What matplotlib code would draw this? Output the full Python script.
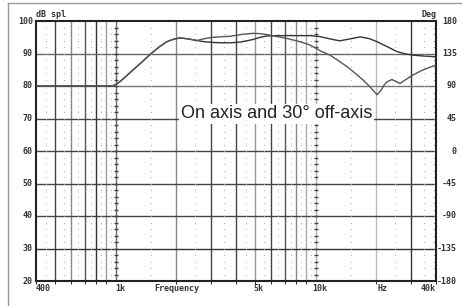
import matplotlib.pyplot as plt
from matplotlib.lines import Line2D
import numpy as np

# data (Hz, dB spl)
freq_rise = [400, 960, 1000, 1050, 1100, 1200, 1300, 1400, 1500, 1650, 1800, 1950, 2100, 2300, 2550]
spl_rise = [80, 80, 80.4, 81.3, 82.4, 84.5, 86.4, 88.2, 89.9, 92.0, 93.6, 94.4, 94.8, 94.5, 94.0]

freq_on = freq_rise + [2800, 3070, 3400, 3730, 4200, 4860, 5300, 5720, 6410, 7450, 9380,
                       10500, 11800, 13200, 14900, 16700, 18500, 20000, 23000, 25500,
                       28000, 30700, 35000, 40000]
spl_on = spl_rise + [93.6, 93.4, 93.3, 93.3, 93.5, 94.3, 95.0, 95.4, 95.5, 95.5, 95.5,
                     95.2, 94.5, 93.9, 94.5, 95.1, 94.6, 93.8, 92.0, 90.6,
                     89.9, 89.5, 89.2, 89.0]

freq_off = freq_rise + [2800, 3070, 3730, 4300, 4860, 5300, 5720, 6410, 7000, 7450, 8500,
                        9380, 10500, 11800, 13000, 14400, 16000, 17300, 18800, 20300,
                        21200, 22000, 22800, 24100, 25200, 26400, 28000, 30700, 34000, 40000]
spl_off = spl_rise + [94.6, 95.0, 95.3, 95.9, 96.2, 96.1, 95.8, 95.2, 94.8, 94.4, 93.5,
                      92.6, 90.9, 89.5, 87.8, 85.9, 83.6, 81.8, 79.6, 77.3,
                      78.6, 80.3, 81.3, 82.0, 81.4, 80.8, 81.8, 83.4, 84.8, 86.5]

major_x = [500, 600, 700, 800, 900, 1000, 2000, 3000, 4000, 5000, 6000, 7000,
           8000, 9000, 10000, 20000, 30000]
major_col = ['#444', '#888', '#555', '#333', '#999', '#666', '#888', '#444', '#444',
             '#999', '#444', '#555', '#888', '#aaa', '#aaa', '#bbb', '#333']
minor_x = [450, 550, 650, 750, 850, 950, 1500, 2500, 3500, 4500, 5500, 6500, 7500,
           8500, 9500, 15000, 25000, 35000]
db_lines = [30, 40, 50, 60, 70, 80, 90]
db_col = ['#333', '#444', '#444', '#444', '#444', '#777', '#666']
left_ticks = [20, 30, 40, 50, 60, 70, 80, 90, 100]
deg_labels = ['-180', '-135', '-90', '-45', '0', '45', '90', '135', '180']
x_labels = [(400, '400', 'left'), (1000, '1k', 'left'), (1560, 'Frequency', 'left'),
            (4900, '5k', 'left'), (9600, '10k', 'left'), (20500, 'Hz', 'left'),
            (40000, '40k', 'right')]

mono = {'family': 'DejaVu Sans Mono', 'weight': 'bold', 'size': 6, 'color': '#333'}

fig = plt.figure(figsize=(4.62, 3.06), dpi=100)
ax = fig.add_axes([36 / 462, 25 / 306, 400 / 462, 260 / 306])
ax.set_xscale('log')
ax.set_xlim(400, 40000)
ax.set_ylim(20, 100)

for x, c in zip(major_x, major_col):
    ax.axvline(x, color=c, lw=1.0, zorder=1)
for y, c in zip(db_lines, db_col):
    ax.axhline(y, color=c, lw=1.0, zorder=1)
dots = np.arange(22, 100, 2)
for x in minor_x:
    ax.plot([x] * len(dots), dots, ls='none', marker='s', ms=0.6, mew=0, color='#aaa', zorder=1)
for x in [1000, 10000]:
    ax.plot([x] * len(dots), dots, ls='none', marker='_', ms=3, mew=1, color='#444', zorder=1)
ax.plot([39000] * len(dots), dots, ls='none', marker='s', ms=0.6, mew=0, color='#888', zorder=1)

ax.plot(freq_on, spl_on, color='#333', lw=1.0, zorder=3)
ax.plot(freq_off, spl_off, color='#555', lw=1.0, zorder=3)

ax.text(2120, 71.5, 'On axis and 30° off-axis', family='Liberation Sans', fontsize=13,
        color='#222', ha='left', va='center', zorder=4,
        bbox=dict(facecolor='white', edgecolor='none', pad=1.0))

ax.set_xticks([])
ax.set_yticks([])
for s in ax.spines.values():
    s.set_linewidth(1.5)
    s.set_color('#222')

for y in left_ticks:
    ax.text(-0.008, y, str(y), transform=ax.get_yaxis_transform(), ha='right',
            va='center', fontdict=mono)
for y, lab in zip(left_ticks, deg_labels):
    ax.text(1.052, y, lab, transform=ax.get_yaxis_transform(), ha='right',
            va='center', fontdict=mono)
for x, lab, ha in x_labels:
    ax.text(x, -0.03, lab, transform=ax.get_xaxis_transform(), ha=ha, va='center',
            fontdict=mono)
ax.text(0.0, 1.025, 'dB spl', transform=ax.transAxes, ha='left', va='center', fontdict=mono)
ax.text(1.0, 1.025, 'Deg', transform=ax.transAxes, ha='right', va='center', fontdict=mono)

# scan border
fig.add_artist(Line2D([8 / 462, 1], [1 - 3 / 306] * 2, color='#999', lw=1))
fig.add_artist(Line2D([8 / 462] * 2, [0, 1 - 3 / 306], color='#999', lw=1))

fig.savefig('out.png', dpi=100)
